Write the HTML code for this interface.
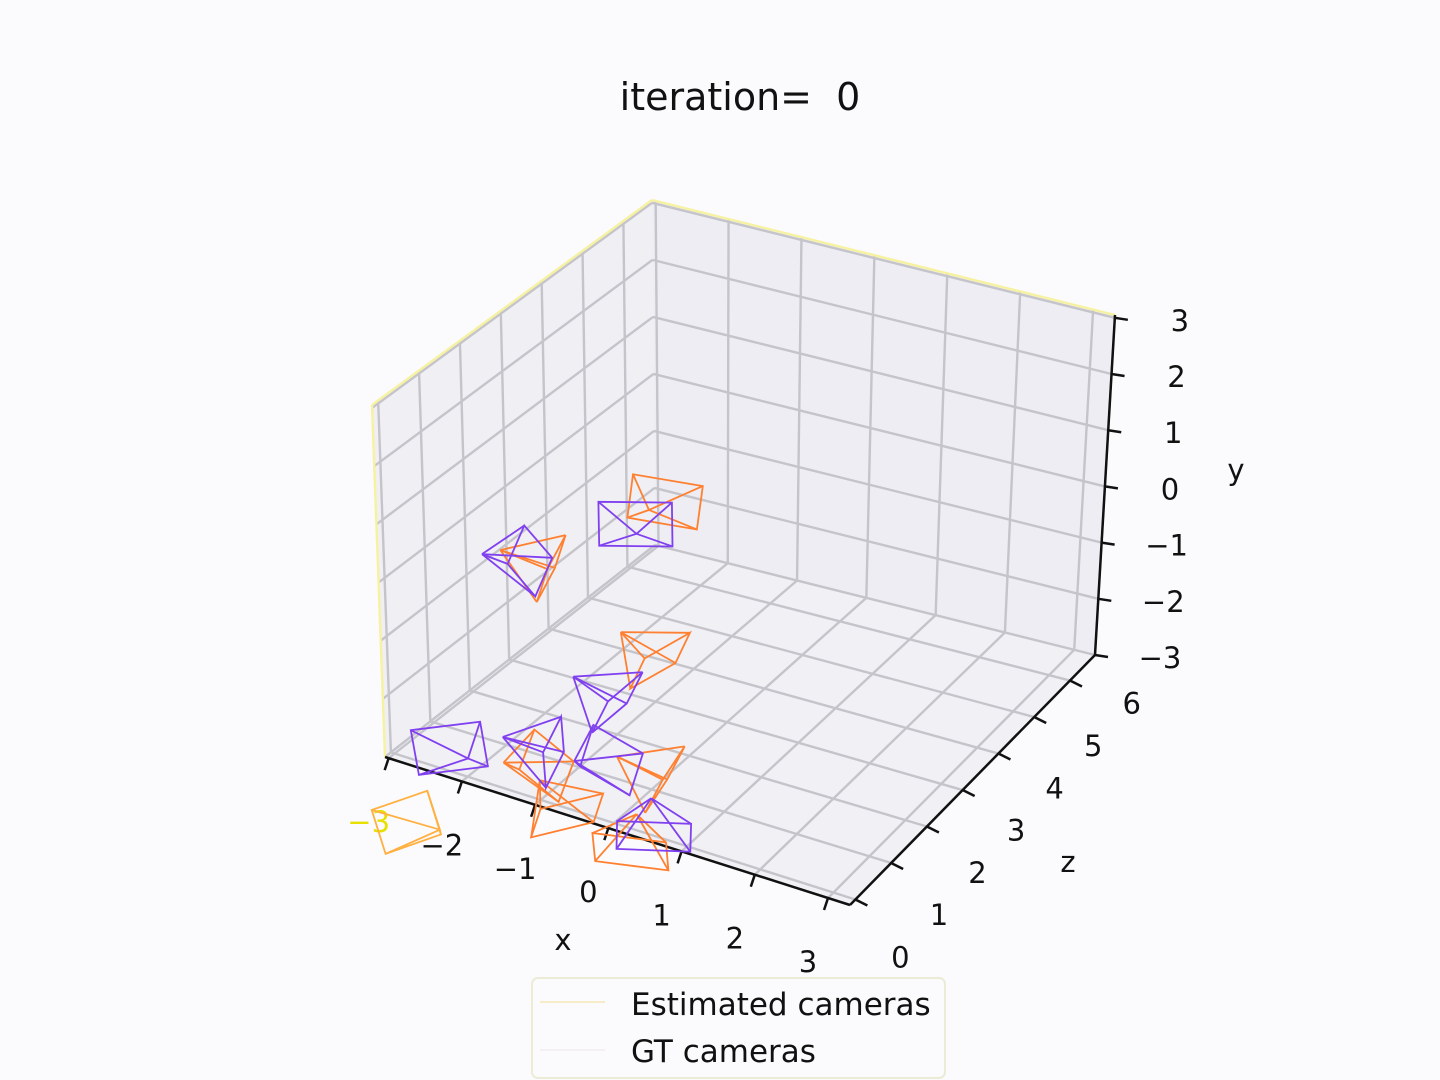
<!DOCTYPE html>
<html><head><meta charset="utf-8"><title>iteration 0</title>
<style>
html,body{margin:0;padding:0;background:#fbfbfd;}
svg{display:block;font-family:"DejaVu Sans","Liberation Sans",sans-serif;}
</style></head>
<body>
<svg id="chart" width="1440" height="1080" viewBox="0 0 1440 1080" xmlns="http://www.w3.org/2000/svg">
<rect x="0" y="0" width="1440" height="1080" fill="#fbfbfd"/>
<text x="740" y="110" font-size="38" text-anchor="middle" fill="#111" style="white-space:pre" xml:space="preserve">iteration=  0</text>
<g id="panes"></g>
<g id="grid"></g>
<g id="axes"></g>
<g id="cams"></g>
<text x="563" y="950" font-size="29" text-anchor="middle" fill="#111">x</text>
<text x="1068" y="872" font-size="29" text-anchor="middle" fill="#111">z</text>
<text x="1236" y="480" font-size="29" text-anchor="middle" fill="#111">y</text>
<g>
<rect x="532" y="978" width="413" height="100" rx="6" fill="#fbfbfd" stroke="#ecebd6" stroke-width="2"/>
<line x1="540" y1="1002" x2="605" y2="1002" stroke="#f6ecc8" stroke-width="2"/>
<text x="631" y="1015" font-size="31" fill="#111">Estimated cameras</text>
<line x1="540" y1="1050" x2="605" y2="1050" stroke="#f4f0f4" stroke-width="2"/>
<text x="631" y="1062" font-size="31" fill="#111">GT cameras</text>
</g>
</svg>
<script>
const xTicks = [-3, -2, -1, 0, 1, 2, 3];
const yTicks = [-3, -2, -1, 0, 1, 2, 3];
const zTicks = [0, 1, 2, 3, 4, 5, 6];
const xLabels = ["\u22123", "\u22122", "\u22121", "0", "1", "2", "3"];
const yLabels = ["\u22123", "\u22122", "\u22121", "0", "1", "2", "3"];
const zLabels = ["0", "1", "2", "3", "4", "5", "6"];
// GT cameras (purple)
const gtX = [-2.4, -1.85, -1.8, -1.77, -2.0, -0.98, 0.3];
const gtY = [0.0, -1.0, -2.5, -2.5, -2.7, -2.8, -2.7];
const gtZ = [1.23, 4.1, 2.36, 0.49, 0.02, 0.84, 0.41];
const gtYaw = [40, -30, 90, 60, -50, 20, 150];
// Estimated cameras (orange)
const estX = [-2.27, -1.73, -1.5, -1.67, -1.1, -0.39, 0.13, -2.0];
const estY = [0.0, -0.6, -2.0, -2.8, -2.8, -2.5, -3.0, -3.5];
const estZ = [1.45, 4.2, 3.04, 0.31, 0.17, 0.84, 0.35, -0.74];
const estYaw = [70, -10, 100, 30, 120, 80, 160, -70];

const X0=-3.05,X1=3.3,Y0=-3,Y1=3.05,Z0=-0.15,Z1=6.7;
const C = {
 '000':[385,757],'100':[850,905],'001':[655,545],'101':[1095,655],
 '010':[372,405],'110':[855,535],'011':[652,200],'111':[1115,315]};
function L(a,b,t){return [a[0]+(b[0]-a[0])*t,a[1]+(b[1]-a[1])*t];}
function P(x,y,z){
 const u=(x-X0)/(X1-X0),v=(y-Y0)/(Y1-Y0),w=(z-Z0)/(Z1-Z0);
 const a=L(C['000'],C['100'],u),b=L(C['001'],C['101'],u),c=L(C['010'],C['110'],u),d=L(C['011'],C['111'],u);
 return L(L(a,b,w),L(c,d,w),v);
}
const NS="http://www.w3.org/2000/svg";
function mk(parent,tag,attrs){const e=document.createElementNS(NS,tag);for(const k in attrs)e.setAttribute(k,attrs[k]);parent.appendChild(e);return e;}
function pts(arr){return arr.map(p=>p[0].toFixed(1)+','+p[1].toFixed(1)).join(' ');}
const panes=document.getElementById('panes'),grid=document.getElementById('grid'),axes=document.getElementById('axes'),cams=document.getElementById('cams');

let e;
e=mk(panes,'polygon',{points:pts([P(X0,Y0,Z0),P(X0,Y0,Z1),P(X0,Y1,Z1),P(X0,Y1,Z0)]),fill:'#efeff4'});


e=mk(panes,'polygon',{points:pts([P(X0,Y0,Z1),P(X1,Y0,Z1),P(X1,Y1,Z1),P(X0,Y1,Z1)]),fill:'#ededf3'});


e=mk(panes,'polygon',{points:pts([P(X0,Y0,Z0),P(X1,Y0,Z0),P(X1,Y0,Z1),P(X0,Y0,Z1)]),fill:'#f0f0f5'});



function gl(a,b,name,col){const l=mk(grid,'line',{x1:a[0],y1:a[1],x2:b[0],y2:b[1],stroke:col||'#c4c4ca','stroke-width':2.4});

}
zTicks.forEach(z=>{gl(P(X0,Y0,z),P(X0,Y1,z),'grid-left-z');gl(P(X0,Y0,z),P(X1,Y0,z),'grid-floor-z');});
yTicks.forEach(y=>{gl(P(X0,y,Z0),P(X0,y,Z1),'grid-left-y');gl(P(X0,y,Z1),P(X1,y,Z1),'grid-back-y');});
xTicks.forEach(x=>{gl(P(x,Y0,Z1),P(x,Y1,Z1),'grid-back-x');gl(P(x,Y0,Z0),P(x,Y0,Z1),'grid-floor-x');});
gl(P(X0,Y0,Z0),P(X0,Y1,Z0),'pane-edge','#f6f2a0');
gl(P(X0,Y1,Z0),P(X0,Y1,Z1),'pane-edge','#f6f2a0');
gl(P(X0,Y1,Z1),P(X1,Y1,Z1),'pane-edge','#f6f2a0');

function al(a,b,name){const l=mk(axes,'line',{x1:a[0],y1:a[1],x2:b[0],y2:b[1],stroke:'#111','stroke-width':2.5});

}
al(P(X0,Y0,Z0),P(X1,Y0,Z0),'x-axis-line');
al(P(X1,Y0,Z0),P(X1,Y0,Z1),'z-axis-line');
al(P(X1,Y0,Z1),P(X1,Y1,Z1),'y-axis-line');
function tl(x,y,s,name,col){const t=mk(axes,'text',{x:x,y:y,'font-size':29,'text-anchor':'middle',fill:col||'#111'});t.textContent=s;

}
xTicks.forEach((x,i)=>{const p=P(x,Y0,Z0);al(p,[p[0]-4,p[1]+12],'x-tick');tl(p[0]-20,p[1]+74,xLabels[i],'x-tick-label',i===0?'#e8e000':'#111');});
zTicks.forEach((z,i)=>{const p=P(X1,Y0,z);al(p,[p[0]+12,p[1]+6],'z-tick');tl(p[0]+45+2.8*i,p[1]+68-5.8*i,zLabels[i],'z-tick-label');});
yTicks.forEach((y,i)=>{const p=P(X1,y,Z1);al(p,[p[0]+13,p[1]+2],'y-tick');tl(p[0]+65,p[1]+13,yLabels[i],'y-tick-label');});

function frustum(cx,cy,cz,yawDeg,col,name){
 const yaw=yawDeg*Math.PI/180,pitch=0.35;
 const d=[Math.cos(pitch)*Math.sin(yaw),-Math.sin(pitch),Math.cos(pitch)*Math.cos(yaw)];
 const r=[Math.cos(yaw),0,-Math.sin(yaw)];
 const u=[d[1]*r[2]-d[2]*r[1],d[2]*r[0]-d[0]*r[2],d[0]*r[1]-d[1]*r[0]];
 const s=0.65,hw=0.45,hh=0.33;
 const b=[cx+d[0]*s,cy+d[1]*s,cz+d[2]*s];
 const cs=[[1,1],[1,-1],[-1,-1],[-1,1]].map(([a,c])=>P(b[0]+r[0]*hw*a+u[0]*hh*c,b[1]+r[1]*hw*a+u[1]*hh*c,b[2]+r[2]*hw*a+u[2]*hh*c));
 const ap=P(cx,cy,cz);
 const g=mk(cams,'g',{stroke:col,'stroke-width':1.8,fill:'none'});
 
 
 mk(g,'polygon',{points:pts(cs)});
 cs.forEach(c=>mk(g,'line',{x1:ap[0],y1:ap[1],x2:c[0],y2:c[1]}));
}
estX.forEach((x,i)=>frustum(x,estY[i],estZ[i],estYaw[i],i===7?'#ffb040':'#ff8030','estimated-camera'));
gtX.forEach((x,i)=>frustum(x,gtY[i],gtZ[i],gtYaw[i],'#8040f0','gt-camera'));
</script>
</body></html>
